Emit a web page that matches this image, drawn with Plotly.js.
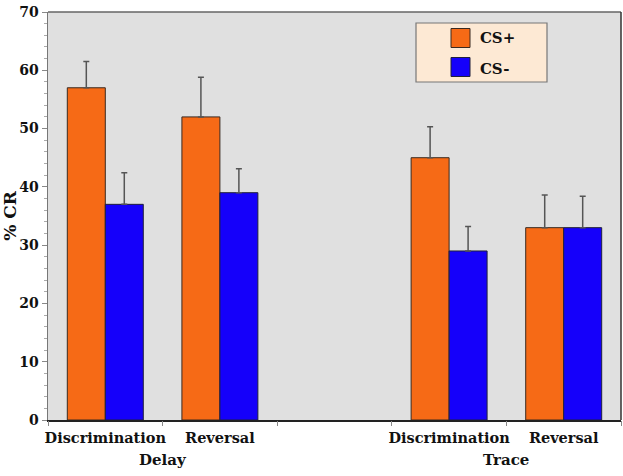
<!DOCTYPE html>
<html>
<head>
<meta charset="utf-8">
<script src="https://cdn.plot.ly/plotly-3.0.1.min.js"></script>
<style>
html,body{margin:0;padding:0;background:#fff;}
#chart{width:623px;height:476px;}
#chart .legend .legendpoints{display:none;}
</style>
</head>
<body>
<div id="chart"></div>
<script>
// Data
var slotPositions = [0, 1, 3, 4];
var conditionLabels = ["Discrimination", "Reversal", "Discrimination", "Reversal"];
var groupLabels = ["Delay", "Trace"];
var groupPositions = [0.5, 3.5];
var csPlus = [57, 52, 45, 33];
var csPlusErr = [4.5, 6.8, 5.3, 5.6];
var csMinus = [37, 39, 29, 33];
var csMinusErr = [5.4, 4.1, 4.2, 5.4];
var boundaryTicks = [-0.5, 0.5, 1.5, 2.5, 3.5, 4.5];
var seriesColors = ["#F66A16", "#1500FA"];

var FONT = "DejaVu Serif, serif";

var traces = [
  {
    type: "bar", name: "CS+", x: slotPositions, y: csPlus,
    marker: {color: seriesColors[0], line: {color: "#3a2a20", width: 1}},
    error_y: {type: "data", symmetric: false, array: csPlusErr, arrayminus: [0,0,0,0], color: "#555", thickness: 1.5, width: 3},
    legendgroup: "a"
  },
  {
    type: "bar", name: "CS-", x: slotPositions, y: csMinus,
    marker: {color: seriesColors[1], line: {color: "#20203a", width: 1}},
    error_y: {type: "data", symmetric: false, array: csMinusErr, arrayminus: [0,0,0,0], color: "#555", thickness: 1.5, width: 3},
    legendgroup: "b"
  },
  {
    type: "scatter", x: [null], y: [null], xaxis: "x2", showlegend: false, hoverinfo: "skip"
  }
];

var annotations = groupLabels.map(function (g, i) {
  return {
    text: g, x: groupPositions[i], xref: "x", y: -0.098, yref: "paper",
    yanchor: "middle", xanchor: "center", showarrow: false,
    font: {family: FONT, size: 15, color: "#111", weight: "bold"}
  };
});

function px2x(p) { return (p - 48) / 573; }
function px2y(p) { return (420 - p) / 408; }

var layout = {
  width: 623, height: 476,
  margin: {l: 48, r: 2, t: 12, b: 56},
  paper_bgcolor: "#ffffff",
  plot_bgcolor: "#E0E0E0",
  barmode: "group",
  bargap: 0.337,
  bargroupgap: 0,
  font: {family: FONT, size: 14, color: "#111", weight: "bold"},
  showlegend: true,
  legend: {
    x: 0.684, xanchor: "left", y: 0.977, yanchor: "top",
    bgcolor: "rgba(0,0,0,0)", borderwidth: 0,
    traceorder: "grouped", tracegroupgap: 8,
    font: {family: FONT, size: 15, color: "#111", weight: "bold"}
  },
  shapes: [{
    type: "rect", xref: "paper", yref: "paper", layer: "above",
    x0: px2x(416), x1: px2x(547), y0: px2y(82), y1: px2y(23),
    fillcolor: "#FDE9D4", line: {color: "#777", width: 1.2}
  }, {
    type: "rect", xref: "paper", yref: "paper", layer: "above",
    x0: px2x(451), x1: px2x(470), y0: px2y(47.5), y1: px2y(28.5),
    fillcolor: seriesColors[0], line: {color: "#3a2a20", width: 1}
  }, {
    type: "rect", xref: "paper", yref: "paper", layer: "above",
    x0: px2x(451), x1: px2x(470), y0: px2y(76.5), y1: px2y(57.5),
    fillcolor: seriesColors[1], line: {color: "#20203a", width: 1}
  }],
  xaxis: {
    range: [-0.5, 4.5],
    tickmode: "array", tickvals: slotPositions, ticktext: conditionLabels,
    ticks: "", showgrid: false, zeroline: false, ticklabelstandoff: 4,
    showline: true, linecolor: "#222", linewidth: 1.5, mirror: false,
    tickfont: {family: FONT, size: 14.5, color: "#111", weight: "bold"},
    fixedrange: true
  },
  xaxis2: {
    overlaying: "x", anchor: "y", side: "bottom",
    range: [-0.5, 4.5], tickmode: "array", tickvals: boundaryTicks,
    ticks: "outside", ticklen: 5, tickwidth: 1, tickcolor: "#888",
    showticklabels: false, showgrid: false, zeroline: false, showline: false
  },
  yaxis: {
    range: [0, 70], tickmode: "linear", tick0: 0, dtick: 10,
    ticks: "outside", ticklen: 5, tickwidth: 1, tickcolor: "#888",
    minor: {dtick: 2, ticks: "outside", ticklen: 3, tickcolor: "#aaa", showgrid: false},
    showgrid: false, zeroline: false,
    showline: true, linecolor: "#777", linewidth: 1.5, mirror: false,
    tickfont: {family: FONT, size: 14, color: "#111", weight: "bold"},
    title: {text: "% CR", standoff: 2, font: {family: FONT, size: 17, color: "#111", weight: "bold"}}
  },
  annotations: annotations
};

// top and right frame lines
layout.shapes.push({type: "line", xref: "paper", yref: "paper", x0: 0, x1: 1, y0: 1, y1: 1, line: {color: "#666", width: 1.5}});
layout.shapes.push({type: "line", xref: "paper", yref: "paper", x0: 1, x1: 1, y0: 0, y1: 1, line: {color: "#333", width: 1.5}});

Plotly.newPlot("chart", traces, layout, {displayModeBar: false, staticPlot: true});
</script>
</body>
</html>
